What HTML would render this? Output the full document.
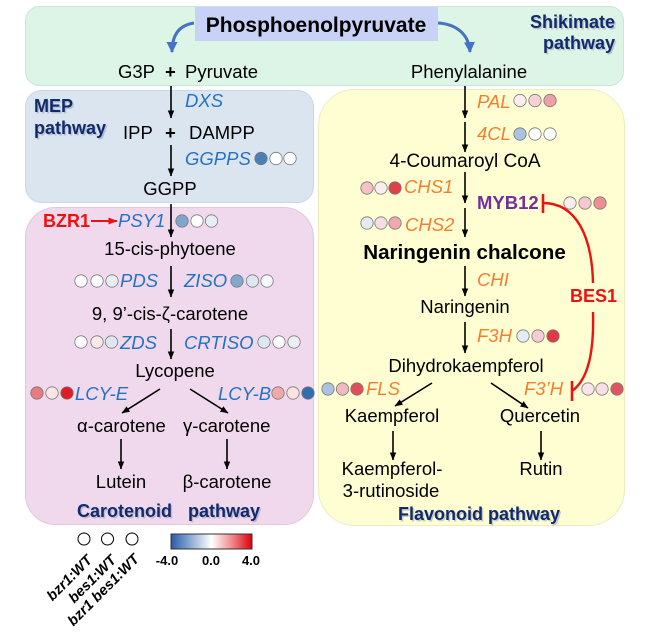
<!DOCTYPE html>
<html><head><meta charset="utf-8">
<style>
html,body{margin:0;padding:0;background:#fff;}
svg{display:block;}
text{font-family:"Liberation Sans",Arial,sans-serif;}
.m{font-size:18.5px;fill:#000;}
.eb{font-size:18.5px;font-style:italic;fill:#2272c4;}
.eo{font-size:18.5px;font-style:italic;fill:#f47d30;}
.nv{font-size:18px;font-weight:bold;fill:#112a6c;}
.sh{font-size:18px;font-weight:bold;fill:#9aa2b8;opacity:0.55;}
.rd{font-size:18px;font-weight:bold;fill:#ee1111;}
.ln{stroke:#000;stroke-width:1.6;fill:none;}
circle{stroke:#777;stroke-width:0.8;}
.lg{font-size:14.5px;font-weight:bold;font-style:italic;fill:#000;}
.cb{font-size:13px;font-weight:bold;fill:#000;}
</style></head><body>
<svg width="645" height="644" viewBox="0 0 645 644" xmlns="http://www.w3.org/2000/svg">
<defs>
<marker id="ah" markerWidth="8" markerHeight="8" refX="7.5" refY="4" orient="auto" markerUnits="userSpaceOnUse">
<path d="M0,0.8 L8,4 L0,7.2 z" fill="#000"/>
</marker>
<marker id="bh" markerWidth="12" markerHeight="12" refX="10" refY="6" orient="auto" markerUnits="userSpaceOnUse">
<path d="M0,0.5 L11,6 L0,11.5 z" fill="#4472c4"/>
</marker>
<marker id="rh" markerWidth="9" markerHeight="9" refX="8.5" refY="4.5" orient="auto" markerUnits="userSpaceOnUse">
<path d="M0,1 L9,4.5 L0,8 z" fill="#ee1111"/>
</marker>
<linearGradient id="cg" x1="0" x2="1" y1="0" y2="0">
<stop offset="0" stop-color="#2a5aa8"/>
<stop offset="0.25" stop-color="#90aed6"/>
<stop offset="0.5" stop-color="#ffffff"/>
<stop offset="0.75" stop-color="#f08a8e"/>
<stop offset="1" stop-color="#dc0008"/>
</linearGradient>
</defs>

<!-- boxes -->
<rect x="25.5" y="6.5" width="598" height="79" rx="14" fill="#ddf5e7" stroke="#c9e7d6"/>
<rect x="318.5" y="89.5" width="306" height="436" rx="36" fill="#fefed2" stroke="#ecebc0"/>
<rect x="25.5" y="90.5" width="288" height="112" rx="16" fill="#dbe5f0" stroke="#c9d6e4"/>
<rect x="25.5" y="207.5" width="288" height="317" rx="30" fill="#f1d9ed" stroke="#e2c6dd"/>
<rect x="195" y="7" width="243" height="34" fill="#c7d2f6"/>

<!-- PEP -->
<text x="316" y="32" text-anchor="middle" style="font-size:21px;font-weight:bold;">Phosphoenolpyruvate</text>
<path d="M194 23 C 180 25, 172 34, 172 52" stroke="#4472c4" stroke-width="3" fill="none" marker-end="url(#bh)"/>
<path d="M438 23 C 456 24, 469 34, 470 52" stroke="#4472c4" stroke-width="3" fill="none" marker-end="url(#bh)"/>

<text class="sh" x="616.5" y="29.5" text-anchor="end">Shikimate</text>
<text class="sh" x="616.5" y="50.5" text-anchor="end">pathway</text>
<text class="nv" x="615" y="28" text-anchor="end">Shikimate</text>
<text class="nv" x="615" y="49" text-anchor="end">pathway</text>

<!-- left column -->
<text class="m" x="118" y="78">G3P</text>
<text class="m" x="165" y="78" font-weight="bold">+</text>
<text class="m" x="185" y="78">Pyruvate</text>

<text class="sh" x="35.5" y="113.5">MEP</text>
<text class="sh" x="35.5" y="135.5">pathway</text>
<text class="nv" x="34" y="112">MEP</text>
<text class="nv" x="34" y="134">pathway</text>

<line class="ln" x1="171" y1="86" x2="171" y2="118" marker-end="url(#ah)"/>
<text class="eb" x="185" y="107">DXS</text>
<text class="m" x="123" y="139">IPP</text>
<text class="m" x="165" y="139" font-weight="bold">+</text>
<text class="m" x="189" y="139">DAMPP</text>
<line class="ln" x1="171" y1="145" x2="171" y2="176" marker-end="url(#ah)"/>
<text class="eb" x="185" y="165">GGPPS</text>
<circle cx="261" cy="158.5" r="6.2" fill="#4a80b8"/>
<circle cx="276" cy="158.5" r="6.2" fill="#ffffff"/>
<circle cx="290" cy="158.5" r="6.2" fill="#ffffff"/>
<text class="m" x="170" y="195" text-anchor="middle">GGPP</text>

<line class="ln" x1="171" y1="204" x2="171" y2="237" marker-end="url(#ah)"/>
<text class="rd" x="43" y="227">BZR1</text>
<line x1="91" y1="221" x2="117" y2="221" stroke="#ee1111" stroke-width="2" marker-end="url(#rh)"/>
<text class="eb" x="118" y="227">PSY1</text>
<circle cx="182" cy="221" r="6.2" fill="#7ea6cf"/>
<circle cx="197" cy="221" r="6.2" fill="#ffffff"/>
<circle cx="211.5" cy="221" r="6.2" fill="#e6eef6"/>
<text class="m" x="170" y="255" text-anchor="middle">15-cis-phytoene</text>

<circle cx="81" cy="281" r="6.2" fill="#ffffff"/>
<circle cx="97" cy="281" r="6.2" fill="#ffffff"/>
<circle cx="112" cy="281" r="6.2" fill="#e8eef5"/>
<text class="eb" x="120" y="287">PDS</text>
<line class="ln" x1="171" y1="266" x2="171" y2="297" marker-end="url(#ah)"/>
<text class="eb" x="184" y="287">ZISO</text>
<circle cx="237" cy="281" r="6.2" fill="#82a8d0"/>
<circle cx="252.5" cy="281" r="6.2" fill="#dde7f2"/>
<circle cx="267" cy="281" r="6.2" fill="#f6f9fc"/>
<text class="m" x="170" y="320" text-anchor="middle">9, 9’-cis-ζ-carotene</text>

<circle cx="81" cy="342" r="6.2" fill="#ffffff"/>
<circle cx="97" cy="342" r="6.2" fill="#fbe8e8"/>
<circle cx="111.5" cy="342" r="6.2" fill="#dde7f2"/>
<text class="eb" x="120" y="349">ZDS</text>
<line class="ln" x1="171" y1="329" x2="171" y2="359" marker-end="url(#ah)"/>
<text class="eb" x="184" y="349">CRTISO</text>
<circle cx="264" cy="342" r="6.2" fill="#dde7f2"/>
<circle cx="279" cy="342" r="6.2" fill="#ffffff"/>
<circle cx="294" cy="342" r="6.2" fill="#eaf0f5"/>
<text class="m" x="175" y="377" text-anchor="middle">Lycopene</text>

<circle cx="37" cy="393" r="6.2" fill="#e87a80"/>
<circle cx="52" cy="393" r="6.2" fill="#fbe5e5"/>
<circle cx="67" cy="393" r="6.2" fill="#dd1c24"/>
<text class="eb" x="75" y="400">LCY-E</text>
<text class="eb" x="218" y="400">LCY-B</text>
<circle cx="278" cy="393" r="6.2" fill="#f2a8aa"/>
<circle cx="293" cy="393" r="6.2" fill="#fbe3e3"/>
<circle cx="308" cy="393" r="6.2" fill="#2f6faf"/>
<line class="ln" x1="160" y1="389" x2="122" y2="413" marker-end="url(#ah)"/>
<line class="ln" x1="190" y1="389" x2="228" y2="413" marker-end="url(#ah)"/>
<text class="m" x="77" y="432">α-carotene</text>
<text class="m" x="183" y="432">γ-carotene</text>
<line class="ln" x1="121" y1="439" x2="121" y2="469" marker-end="url(#ah)"/>
<line class="ln" x1="227" y1="439" x2="227" y2="469" marker-end="url(#ah)"/>
<text class="m" x="121" y="488" text-anchor="middle">Lutein</text>
<text class="m" x="227" y="488" text-anchor="middle">β-carotene</text>
<text class="sh" x="78.5" y="518.5">Carotenoid</text>
<text class="sh" x="189.5" y="518.5">pathway</text>
<text class="nv" x="77" y="517">Carotenoid</text>
<text class="nv" x="188" y="517">pathway</text>

<!-- right column -->
<text class="m" x="469" y="78" text-anchor="middle">Phenylalanine</text>
<line class="ln" x1="465" y1="86" x2="465" y2="118" marker-end="url(#ah)"/>
<text class="eo" x="477" y="108">PAL</text>
<circle cx="520" cy="100.5" r="6.2" fill="#fbecef"/>
<circle cx="535" cy="100.5" r="6.2" fill="#f8d0d8"/>
<circle cx="550" cy="100.5" r="6.2" fill="#eea0a8"/>
<line class="ln" x1="465" y1="122" x2="465" y2="152" marker-end="url(#ah)"/>
<text class="eo" x="477" y="140">4CL</text>
<circle cx="520" cy="134" r="6.2" fill="#a9c4e0"/>
<circle cx="535" cy="134" r="6.2" fill="#ffffff"/>
<circle cx="550" cy="134" r="6.2" fill="#ffffff"/>
<text class="m" x="465" y="167" text-anchor="middle" style="font-size:19px;">4-Coumaroyl CoA</text>

<circle cx="367" cy="188" r="6.2" fill="#f5c0c8"/>
<circle cx="381" cy="188" r="6.2" fill="#fbeef0"/>
<circle cx="395" cy="188" r="6.2" fill="#e0404a"/>
<text class="eo" x="404" y="193">CHS1</text>
<line class="ln" x1="465" y1="172" x2="465" y2="203" marker-end="url(#ah)"/>
<text x="477" y="209" style="font-size:18.5px;font-weight:bold;fill:#7030a0;">MYB12</text>
<circle cx="570" cy="203" r="6.2" fill="#fbecee"/>
<circle cx="585" cy="203" r="6.2" fill="#f4c8ce"/>
<circle cx="600" cy="203" r="6.2" fill="#ec8e94"/>

<circle cx="367" cy="223" r="6.2" fill="#e5ebf5"/>
<circle cx="381" cy="223" r="6.2" fill="#f8dde2"/>
<circle cx="395" cy="223" r="6.2" fill="#eea8b0"/>
<text class="eo" x="405" y="231">CHS2</text>
<line class="ln" x1="465" y1="208" x2="465" y2="237" marker-end="url(#ah)"/>
<text x="464.5" y="259" text-anchor="middle" style="font-size:20.6px;font-weight:bold;">Naringenin chalcone</text>
<line class="ln" x1="465" y1="266" x2="465" y2="296" marker-end="url(#ah)"/>
<text class="eo" x="477" y="286">CHI</text>
<text class="m" x="465" y="313" text-anchor="middle">Naringenin</text>
<line class="ln" x1="465" y1="322" x2="465" y2="353" marker-end="url(#ah)"/>
<text class="eo" x="477" y="342">F3H</text>
<circle cx="523" cy="336" r="6.2" fill="#e5ebf5"/>
<circle cx="538" cy="336" r="6.2" fill="#f5ccd3"/>
<circle cx="553" cy="336" r="6.2" fill="#e03a45"/>
<text class="m" x="466" y="372" text-anchor="middle">Dihydrokaempferol</text>

<circle cx="328" cy="389" r="6.2" fill="#a9c4e0"/>
<circle cx="342.5" cy="389" r="6.2" fill="#f2b8c0"/>
<circle cx="357" cy="389" r="6.2" fill="#e0505a"/>
<text class="eo" x="366" y="395">FLS</text>
<text class="eo" x="524" y="395">F3’H</text>
<circle cx="588" cy="389" r="6.2" fill="#fbe5ea"/>
<circle cx="602" cy="389" r="6.2" fill="#f8dfe5"/>
<circle cx="617" cy="389" r="6.2" fill="#e05560"/>
<line class="ln" x1="432" y1="383" x2="395" y2="406" marker-end="url(#ah)"/>
<line class="ln" x1="491" y1="383" x2="528" y2="408" marker-end="url(#ah)"/>
<text class="m" x="392" y="422" text-anchor="middle">Kaempferol</text>
<text class="m" x="540" y="422" text-anchor="middle">Quercetin</text>
<line class="ln" x1="393" y1="431" x2="393" y2="460" marker-end="url(#ah)"/>
<line class="ln" x1="541" y1="431" x2="541" y2="460" marker-end="url(#ah)"/>
<text class="m" x="392" y="475" text-anchor="middle">Kaempferol-</text>
<text class="m" x="391" y="497" text-anchor="middle">3-rutinoside</text>
<text class="m" x="541" y="475" text-anchor="middle">Rutin</text>
<text class="sh" x="399.5" y="521.5">Flavonoid pathway</text>
<text class="nv" x="398" y="520">Flavonoid pathway</text>

<!-- BES1 inhibition -->
<line x1="543" y1="194" x2="543" y2="213" stroke="#ee1111" stroke-width="2.6"/>
<path d="M543 203 C 576 203, 592 236, 593 283" stroke="#ee1111" stroke-width="2.4" fill="none"/>
<text class="rd" x="570" y="302">BES1</text>
<path d="M593 312 C 594 350, 589 379, 572 391" stroke="#ee1111" stroke-width="2.4" fill="none"/>
<line x1="572" y1="381" x2="572" y2="401" stroke="#ee1111" stroke-width="2.6"/>

<!-- legend -->
<circle cx="84" cy="539" r="6" fill="#fff" style="stroke:#000;stroke-width:1;"/>
<circle cx="107.5" cy="539" r="6" fill="#fff" style="stroke:#000;stroke-width:1;"/>
<circle cx="132" cy="539" r="6" fill="#fff" style="stroke:#000;stroke-width:1;"/>
<text class="lg" transform="translate(93,561) rotate(-45)" text-anchor="end">bzr1:WT</text>
<text class="lg" transform="translate(117,561) rotate(-45)" text-anchor="end">bes1:WT</text>
<text class="lg" transform="translate(140,560) rotate(-45)" text-anchor="end">bzr1 bes1:WT</text>

<rect x="171" y="534" width="81" height="15" fill="url(#cg)" stroke="#333" stroke-width="1"/>
<text class="cb" x="167" y="565" text-anchor="middle">-4.0</text>
<text class="cb" x="211" y="565" text-anchor="middle">0.0</text>
<text class="cb" x="251" y="565" text-anchor="middle">4.0</text>
</svg>
</body></html>
